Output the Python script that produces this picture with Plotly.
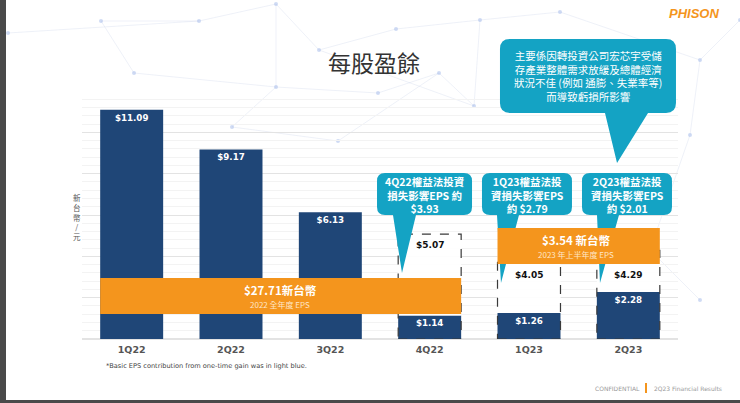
import plotly.graph_objects as go

# EPS per quarter (NTD), dark navy part of each bar
quarters = ['1Q22', '2Q22', '3Q22', '4Q22', '1Q23', '2Q23']
eps = [11.09, 9.17, 6.13, 1.14, 1.26, 2.28]

# equity-method investment loss impact, shown as the dashed part
loss_quarters = ['4Q22', '1Q23', '2Q23']
loss_impact = [3.93, 2.79, 2.01]

eps_2022 = 27.71
eps_1h23 = 3.54

W, H = 740, 403
L, R, T, B = 82, 62, 91, 64
PW, PH = W - L - R, H - T - B
BAR_W = 0.634

NAVY = '#1f4677'
ORANGE = '#f4951d'
TEAL = '#14a3c4'
CJK = 'Noto Sans CJK TC'


def px(x, y):
    # slide pixel -> paper coords
    return (x - L) / PW, (H - B - y) / PH


def text_at(x, y, s, size, color='white', bold=False, family=CJK, xanchor='center'):
    xp, yp = px(x, y)
    return dict(x=xp, y=yp, xref='paper', yref='paper', text=s, showarrow=False,
                xanchor=xanchor, yanchor='middle',
                font=dict(family=family, size=size, color=color,
                          weight='bold' if bold else 'normal'))


def callout_path(x0, y0, x1, y1, r, bx0, bx1, tx, ty):
    pts = [('M', (x0 + r, y0)), ('L', (x1 - r, y0)), ('Q', (x1, y0), (x1, y0 + r)),
           ('L', (x1, y1 - r)), ('Q', (x1, y1), (x1 - r, y1)), ('L', (bx1, y1)),
           ('L', (tx, ty)), ('L', (bx0, y1)), ('L', (x0 + r, y1)),
           ('Q', (x0, y1), (x0, y1 - r)), ('L', (x0, y0 + r)), ('Q', (x0, y0), (x0 + r, y0))]
    out = []
    for p in pts:
        coords = ' '.join('%.4f,%.4f' % px(*c) for c in p[1:])
        out.append(p[0] + ' ' + coords)
    return ' '.join(out) + ' Z'


totals = [eps[quarters.index(q)] + v for q, v in zip(loss_quarters, loss_impact)]

trace_eps = go.Bar(x=quarters, y=eps, width=BAR_W, marker=dict(color=NAVY, line=dict(width=0)),
                   text=['$%.2f' % v for v in eps], textposition='inside',
                   insidetextanchor='end', textangle=0,
                   textfont=dict(family='DejaVu Sans', size=8.7, color='white', weight='bold'),
                   hoverinfo='skip')
trace_loss = go.Bar(x=loss_quarters, y=loss_impact,
                    base=[eps[quarters.index(q)] for q in loss_quarters],
                    width=BAR_W, marker=dict(color='rgba(255,255,255,0.92)', line=dict(width=0)),
                    hoverinfo='skip')

fig = go.Figure(data=[trace_eps, trace_loss])

shapes = []
annotations = []

# background network decoration
nodes = {'a': (8, 33), 'b': (101, 21), 'c': (199, 21), 'd': (276, 4), 'e': (134, 73),
         'f': (276, 87), 'g': (319, 50), 'h': (378, 93), 'i': (396, 29), 'j': (439, 73),
         'k': (474, 106), 'm': (232, 127), 'n': (338, 141), 'o': (480, 20), 'p': (560, 12),
         'q': (700, 60), 'r': (740, 20), 's': (690, 135), 't': (650, 250), 'u': (700, 300)}
edges = ['ac', 'bc', 'cd', 'df', 'fe', 'be', 'fh', 'dg', 'gi', 'io', 'gk', 'fm', 'mn',
         'nj', 'jk', 'hj', 'op', 'pq', 'qr', 'qs', 'st', 'tu', 'ko']
for a, b in edges:
    x0, y0 = px(*nodes[a])
    x1, y1 = px(*nodes[b])
    shapes.append(dict(type='line', xref='paper', yref='paper', x0=x0, y0=y0, x1=x1, y1=y1,
                       line=dict(color='rgba(200,212,232,0.4)', width=0.8), layer='below'))
for n in nodes.values():
    cx, cy = px(*n)
    rx, ry = 2 / PW, 2 / PH
    shapes.append(dict(type='circle', xref='paper', yref='paper', x0=cx - rx, x1=cx + rx,
                       y0=cy - ry, y1=cy + ry, fillcolor='rgba(170,190,235,0.55)',
                       line=dict(width=0), layer='below'))

# dashed outline around eps + loss impact
for q, tot in zip(loss_quarters, totals):
    i = quarters.index(q)
    shapes.append(dict(type='rect', xref='x', yref='y', x0=i - BAR_W / 2, x1=i + BAR_W / 2,
                       y0=0, y1=tot, line=dict(color='#3a3a3a', width=1.2, dash='dash')))

# callouts
shapes.append(dict(type='path', xref='paper', yref='paper', fillcolor=TEAL, line=dict(width=0),
                   path=callout_path(500, 39, 676, 113, 10, 605, 648, 617, 163)))
shapes.append(dict(type='path', xref='paper', yref='paper', fillcolor=TEAL, line=dict(width=0),
                   path=callout_path(377, 173, 472, 215, 8, 393, 416, 402, 273)))
shapes.append(dict(type='path', xref='paper', yref='paper', fillcolor=TEAL, line=dict(width=0),
                   path=callout_path(482, 173, 572, 215, 8, 497, 519, 501, 283)))
shapes.append(dict(type='path', xref='paper', yref='paper', fillcolor=TEAL, line=dict(width=0),
                   path=callout_path(582, 173, 672, 215, 8, 597, 619, 600, 283)))

# orange summary bands (y in axis units)
bands = [(quarters.index('1Q22'), quarters.index('4Q22'), 1.21, 2.95),
         (quarters.index('1Q23'), quarters.index('2Q23'), 3.63, 5.37)]
for i0, i1, lo, hi in bands:
    shapes.append(dict(type='rect', xref='x', yref='y', x0=i0 - BAR_W / 2, x1=i1 + BAR_W / 2,
                       y0=lo, y1=hi, fillcolor=ORANGE, line=dict(width=0)))

# total labels on dashed boxes
for q, tot in zip(loss_quarters, totals):
    i = quarters.index(q)
    top = tot
    for i0, i1, lo, hi in bands:
        if i0 <= i <= i1 and lo < tot <= hi:
            top = lo
    annotations.append(dict(x=i, y=top, xref='x', yref='y', text='$%.2f' % tot, showarrow=False,
                            yanchor='top', yshift=-4,
                            font=dict(family='DejaVu Sans', size=9, color='#111', weight='bold')))

# band texts
annotations.append(text_at(280, 290, '$%.2f新台幣' % eps_2022, 11.5, bold=True))
annotations.append(text_at(280, 304, '2022 全年度 EPS', 8, color='#ffe6c8'))
annotations.append(text_at(576, 240, '$%.2f 新台幣' % eps_1h23, 11.5, bold=True))
annotations.append(text_at(576, 254, '2023 年上半年度 EPS', 8, color='#ffe6c8'))

# callout texts
top_lines = ['主要係因轉投資公司宏芯宇受儲', '存產業整體需求放緩及總體經濟',
             '狀況不佳 (例如 通膨、失業率等)', '而導致虧損所影響']
annotations.append(text_at(588, 76, '<br>'.join(top_lines), 10.5))

callout_lines = {
    '4Q22': ['4Q22權益法投資', '損失影響EPS 約', '$%.2f'],
    '1Q23': ['1Q23權益法投', '資損失影響EPS', '約 $%.2f'],
    '2Q23': ['2Q23權益法投', '資損失影響EPS', '約 $%.2f'],
}
callout_cx = {'4Q22': 424.5, '1Q23': 527, '2Q23': 627}
for q, v in zip(loss_quarters, loss_impact):
    lines = callout_lines[q]
    s = '<br>'.join(lines[:2]) + '<br>' + lines[2] % v
    annotations.append(text_at(callout_cx[q], 194.5, s, 10.5, bold=True))

# title, axis label, footnote, footer, logo
annotations.append(text_at(374, 62, '每股盈餘', 23, color='#333333'))
annotations.append(text_at(77, 217, '新<br>台<br>幣<br>/<br>元', 7.5, color='#555555'))
annotations.append(text_at(104, 366, '*Basic EPS contribution from one-time gain was in light blue.',
                           6.6, color='#444444', family='DejaVu Sans', xanchor='left'))
annotations.append(text_at(593, 388, 'CONFIDENTIAL', 6, color='#9a9a9a',
                           family='DejaVu Sans', xanchor='left'))
annotations.append(text_at(652, 388, '2Q23 Financial Results', 6, color='#9a9a9a',
                           family='DejaVu Sans', xanchor='left'))
annotations.append(text_at(694, 13, '<i>PHISON</i>', 13, color=ORANGE, bold=True,
                           family='Liberation Sans'))
fx0, fy0 = px(646, 383)
fx1, fy1 = px(646, 393)
shapes.append(dict(type='line', xref='paper', yref='paper', x0=fx0, x1=fx1, y0=fy0, y1=fy1,
                   line=dict(color=ORANGE, width=2)))

# dark frame edges of the screenshot
sx0, _ = px(0, 0)
sx1, _ = px(6, 0)
_, sy0 = px(0, 403)
_, sy1 = px(0, 0)
shapes.append(dict(type='rect', xref='paper', yref='paper', x0=sx0, x1=sx1, y0=sy0, y1=sy1,
                   fillcolor='#4a4a4a', line=dict(width=0)))
_, by0 = px(0, 403)
_, by1 = px(0, 400)
ex1, _ = px(740, 0)
shapes.append(dict(type='rect', xref='paper', yref='paper', x0=sx0, x1=ex1, y0=by0, y1=by1,
                   fillcolor='#4a4a4a', line=dict(width=0)))

fig.update_layout(
    width=W, height=H,
    margin=dict(l=L, r=R, t=T, b=B),
    paper_bgcolor='white',
    plot_bgcolor='rgba(0,0,0,0)',
    barmode='overlay',
    showlegend=False,
    shapes=shapes,
    annotations=annotations,
    xaxis=dict(range=[-0.5, 5.5], showgrid=False, showline=False, ticks='',
               ticklabelstandoff=3,
               tickfont=dict(family='DejaVu Sans', size=9.5, color='#555555', weight='bold')),
    yaxis=dict(range=[0, 12], dtick=2, showticklabels=False, ticks='',
               gridcolor='#e3e3e3', gridwidth=1.2, zeroline=True, zerolinecolor='#e3e3e3',
               minor=dict(dtick=0.4, showgrid=True, gridcolor='#f3f3f3', gridwidth=1)),
)

# page body has a default 8px margin; remove it so the figure fills the window
fig.write_html('out.html', config={'displayModeBar': False},
               post_script="document.body.style.margin='0px';")
